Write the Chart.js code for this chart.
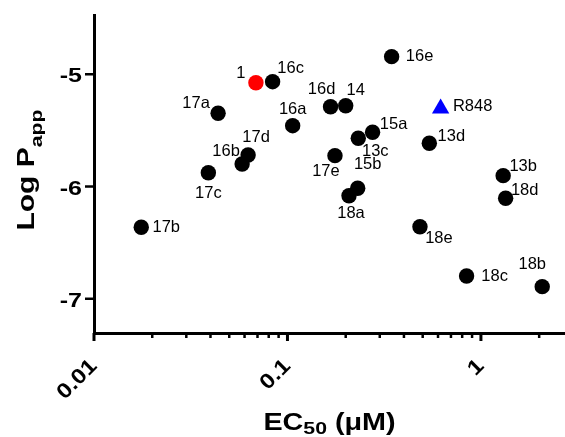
<!DOCTYPE html>
<html>
<head>
<meta charset="utf-8">
<script src="https://cdn.jsdelivr.net/npm/chart.js@4.4.1/dist/chart.umd.min.js"></script>
<style>
  html, body { margin: 0; padding: 0; background: #fff; }
  #wrap { width: 565px; height: 437px; }
</style>
</head>
<body>
<div id="wrap"><canvas id="chart" width="565" height="437"></canvas></div>
<script>
// analogs (black circles)
const compounds = ['16c', '17a', '16a', '17d', '16b', '17c', '17b', '16e', '16d', '14', '15a',
                   '13c', '17e', '13d', '13b', '18d', '15b', '18a', '18e', '18c', '18b'];
const ec50 = [0.0838, 0.0438, 0.1064, 0.0626, 0.0583, 0.039, 0.01755, 0.3455, 0.167, 0.2, 0.2754,
              0.2323, 0.176, 0.541, 1.303, 1.342, 0.2307, 0.208, 0.484, 0.843, 2.074];
const logPapp = [-5.066, -5.347, -5.458, -5.719, -5.799, -5.877, -6.363, -4.843, -5.289, -5.28, -5.517,
                 -5.57, -5.725, -5.615, -5.903, -6.105, -6.016, -6.082, -6.358, -6.797, -6.892];

// lead compound 1 (red) and R848 reference (blue triangle)
const leadName = ['1'];
const leadEC50 = [0.0687];
const leadLogPapp = [-5.075];
const refName = ['R848'];
const refEC50 = [0.619];
const refLogPapp = [-5.306];

// axes
const yTicks = [-7, -6, -5];
const xDecades = [0.01, 0.1, 1];
const xTickLabels = ['0.01', '0.1', '1'];
const X_MIN = 0.01, X_MAX = 2.72;
const Y_MIN = -7.305, Y_MAX = -4.472;

// where each point label sits relative to its marker (px)
const labelOffset = {
  '1': [-15, -9], '16c': [18, -13], '17a': [-22, -10], '16a': [0, -16], '17d': [8, -18],
  '16b': [-16, -13], '17c': [0, 21], '17b': [25, 0], '16e': [28, 0], '16d': [-9, -17],
  '14': [10, -15], 'R848': [32, -2], '15a': [21, -8], '13c': [17, 13], '15b': [10, -24],
  '17e': [-9, 16], '13d': [22, -7], '13b': [20, -9], '18d': [19, -8], '18a': [2, 18],
  '18e': [19, 12], '18c': [28, 0], '18b': [-10, -22]
};

const names = [compounds, leadName, refName];

// minor ticks 2..9 per decade
const xMinor = [];
xDecades.forEach(d => {
  for (let k = 2; k <= 9; k++) if (k * d <= X_MAX) xMinor.push(k * d);
});

const FONT = '"Liberation Sans", Arial, sans-serif';
const SX = 1.25; // the source font is wider than Arial

function stretchText(ctx, text, x, y, sx) {
  ctx.save();
  ctx.translate(x, y);
  ctx.scale(sx, 1);
  ctx.fillText(text, 0, 0);
  ctx.restore();
}

// text made of runs like [{t, size, dy}], drawn from x=0 on baseline 0
function richWidth(ctx, runs, sx) {
  return runs.reduce((w, r) => {
    ctx.font = 'bold ' + r.size + 'px ' + FONT;
    return w + ctx.measureText(r.t).width * sx;
  }, 0);
}
function drawRich(ctx, runs, sx) {
  let x = 0;
  ctx.textAlign = 'left';
  ctx.textBaseline = 'alphabetic';
  runs.forEach(r => {
    ctx.font = 'bold ' + r.size + 'px ' + FONT;
    stretchText(ctx, r.t, x, r.dy, sx);
    x += ctx.measureText(r.t).width * sx;
  });
}

const decorations = {
  id: 'decorations',
  afterDraw(chart) {
    const ctx = chart.ctx;
    const xs = chart.scales.x, ys = chart.scales.y;
    const area = chart.chartArea;
    ctx.save();
    ctx.strokeStyle = '#000';
    ctx.fillStyle = '#000';

    // y ticks and labels
    ctx.lineWidth = 2.5;
    ctx.font = 'bold 20px ' + FONT;
    ctx.textAlign = 'right';
    ctx.textBaseline = 'alphabetic';
    yTicks.forEach(v => {
      const py = ys.getPixelForValue(v);
      ctx.beginPath();
      ctx.moveTo(area.left - 9, py);
      ctx.lineTo(area.left, py);
      ctx.stroke();
      stretchText(ctx, String(v), area.left - 12, py + 8, SX);
    });

    // x ticks
    ctx.lineWidth = 3;
    xDecades.forEach(v => {
      const px = xs.getPixelForValue(v);
      ctx.beginPath();
      ctx.moveTo(px, area.bottom);
      ctx.lineTo(px, area.bottom + 8);
      ctx.stroke();
    });
    ctx.lineWidth = 2.5;
    xMinor.forEach(v => {
      const px = xs.getPixelForValue(v);
      ctx.beginPath();
      ctx.moveTo(px, area.bottom);
      ctx.lineTo(px, area.bottom + 5);
      ctx.stroke();
    });

    // x tick labels, rotated
    ctx.font = 'bold 21px ' + FONT;
    ctx.textAlign = 'right';
    ctx.textBaseline = 'middle';
    xDecades.forEach((v, i) => {
      const px = xs.getPixelForValue(v);
      ctx.save();
      ctx.translate(px, area.bottom + 30);
      ctx.rotate(-Math.PI / 4);
      ctx.scale(1.15, 1);
      ctx.fillText(xTickLabels[i], 0, 0);
      ctx.restore();
    });

    // x title: EC50 (μM)
    const xRuns = [{t: 'EC', size: 23, dy: 0}, {t: '50', size: 17, dy: 4}, {t: ' (\u03bcM)', size: 23, dy: 0}];
    const xw = richWidth(ctx, xRuns, SX);
    ctx.save();
    ctx.translate((area.left + area.right) / 2 - xw / 2, 430);
    drawRich(ctx, xRuns, SX);
    ctx.restore();

    // y title: Log Papp
    const yRuns = [{t: 'Log P', size: 24, dy: 0}, {t: 'app', size: 17, dy: 8}];
    const yw = richWidth(ctx, yRuns, SX);
    ctx.save();
    ctx.translate(33.5, 170 + yw / 2);
    ctx.rotate(-Math.PI / 2);
    drawRich(ctx, yRuns, SX);
    ctx.restore();

    // point labels
    ctx.font = '16.5px ' + FONT;
    ctx.textAlign = 'center';
    ctx.textBaseline = 'middle';
    chart.data.datasets.forEach((ds, di) => {
      chart.getDatasetMeta(di).data.forEach((el, i) => {
        const n = names[di][i];
        const off = labelOffset[n] || [0, 0];
        ctx.fillText(n, el.x + off[0], el.y + off[1]);
      });
    });
    ctx.restore();
  }
};

const toPoints = (xv, yv) => xv.map((x, i) => ({x: x, y: yv[i]}));

new Chart(document.getElementById('chart'), {
  type: 'scatter',
  data: {
    datasets: [
      {
        label: 'Analogs',
        data: toPoints(ec50, logPapp),
        backgroundColor: '#000000',
        pointRadius: 7.7,
        pointHoverRadius: 7.7,
        pointBorderWidth: 0
      },
      {
        label: '1',
        data: toPoints(leadEC50, leadLogPapp),
        backgroundColor: '#ff0000',
        pointRadius: 7.7,
        pointHoverRadius: 7.7,
        pointBorderWidth: 0
      },
      {
        label: 'R848',
        data: toPoints(refEC50, refLogPapp),
        backgroundColor: '#0000ff',
        pointStyle: 'triangle',
        pointRadius: 10,
        pointHoverRadius: 10,
        pointBorderWidth: 0
      }
    ]
  },
  options: {
    responsive: false,
    animation: false,
    layout: { autoPadding: false, padding: { top: 15, right: 0, bottom: 0, left: 0 } },
    plugins: { legend: { display: false }, tooltip: { enabled: false } },
    scales: {
      x: {
        type: 'logarithmic',
        min: X_MIN,
        max: X_MAX,
        afterBuildTicks: s => { s.ticks = xDecades.map(v => ({ value: v })); },
        afterFit: s => { s.height = 104; },
        ticks: { display: false },
        grid: { display: false },
        border: { color: '#000', width: 3 }
      },
      y: {
        min: Y_MIN,
        max: Y_MAX,
        afterBuildTicks: s => { s.ticks = yTicks.map(v => ({ value: v })); },
        afterFit: s => { s.width = 94; },
        ticks: { display: false },
        grid: { display: false },
        border: { color: '#000', width: 3 }
      }
    }
  },
  plugins: [decorations]
});
</script>
</body>
</html>
